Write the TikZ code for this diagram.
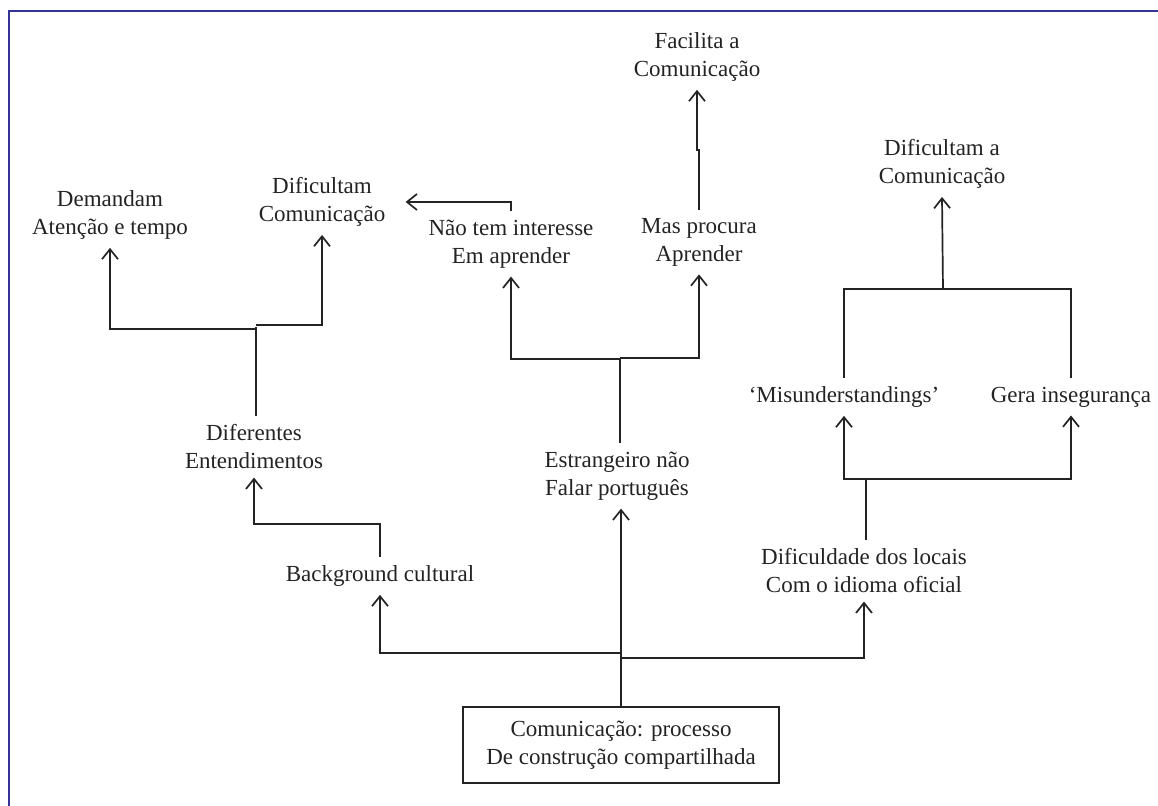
\documentclass[tikz,border=0pt]{standalone}
\usepackage{fontspec}
\setmainfont{Liberation Serif}
\usetikzlibrary{arrows.meta,calc}

\definecolor{frameblue}{RGB}{52,52,150}
\definecolor{ink}{RGB}{35,35,35}

\tikzset{
  txt/.style={align=center, inner sep=4pt, text=ink,
    font=\fontsize{11.5}{14}\selectfont},
  boxed/.style={txt, draw=ink, line width=0.8pt,
    minimum width=158pt, minimum height=38pt},
  lnk/.style={draw=ink, line width=0.85pt},
  arr/.style={lnk, -{Straight Barb[length=5pt,width=8pt]}},
}

\begin{document}
\begin{tikzpicture}[x=0.5pt,y=-0.5pt]
\useasboundingbox (0,0) rectangle (1158,806);
\draw[frameblue, line width=1pt] (9,806) -- (9,11) -- (1158,11);

% concepts
\node[txt] (fac) at (697,57) {Facilita a\\Comunicação};
\node[txt] (dem) at (110,215) {Demandam\\Atenção e tempo};
\node[txt] (dif) at (322,202) {Dificultam\\Comunicação};
\node[txt] (nao) at (511,244) {Não tem interesse\\Em aprender};
\node[txt] (mas) at (699,242) {Mas procura\\Aprender};
\node[txt] (difc) at (942,164) {Dificultam a\\Comunicação};
\node[txt] (mis) at (844,397) {‘Misunderstandings’};
\node[txt] (ger) at (1071,397) {Gera insegurança};
\node[txt] (ent) at (254,447) {Diferentes\\Entendimentos};
\node[txt] (est) at (617,476) {Estrangeiro não\\Falar português};
\node[txt] (bg) at (380,576) {Background cultural};
\node[txt] (loc) at (864,571) {Dificuldade dos locais\\Com o idioma oficial};
\node[boxed] (com) at (621,745) {Comunicação: processo\\De construção compartilhada};

% junctions
\coordinate (j1) at (621,653);
\coordinate (j2) at (256,327);
\coordinate (j3) at (620,359);
\coordinate (j4) at (866,479);
\coordinate (j5) at (943,289);

% links
\draw[lnk] (com.north) -- (j1);
\draw[arr] (j1) -| (bg.south);
\draw[arr] ($(j1)+(0,5)$) -| (loc.south);
\draw[arr] (j1) -- (j1 |- est.south);

\draw[arr] (bg.north) -- ++(0,-33) -| (ent.south);

\draw[lnk] (ent.north -| j2) -- (j2);
\draw[arr] ($(j2)+(0,2)$) -| (dem.south);
\draw[arr] ($(j2)+(0,-2)$) -| (dif.south);

\draw[lnk] (est.north -| j3) -- (j3);
\draw[arr] (j3) -| (nao.south);
\draw[arr] ($(j3)+(0,-1)$) -| (mas.south);

\draw[arr, shorten >=6pt] (nao.north) |- (dif.east);
\draw[arr] (mas.north) |- ($(mas.north)!0.5!(fac.south)$) -| (fac.south);

\draw[lnk] (loc.north -| j4) -- (j4);
\draw[arr] (j4) -| (mis.south);
\draw[arr] (j4) -| (ger.south);

\draw[lnk] (mis.north) |- (j5) -| (ger.north);
\draw[arr] (j5) -- (difc.south);
\end{tikzpicture}
\end{document}
